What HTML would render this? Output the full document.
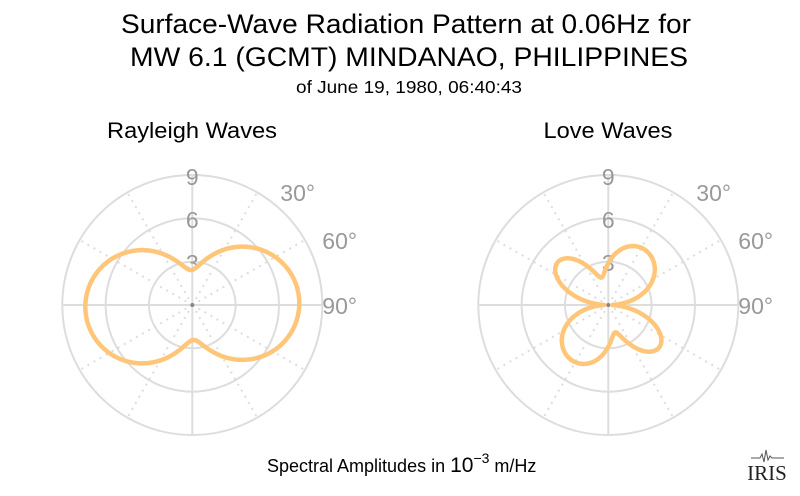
<!DOCTYPE html>
<html><head><meta charset="utf-8"><style>
html,body{margin:0;padding:0;background:#fff;}
svg{display:block;font-family:"Liberation Sans",sans-serif;}
</style></head><body>
<svg id="s" width="800" height="496" viewBox="0 0 800 496" xmlns="http://www.w3.org/2000/svg">
<text x="406" y="33" font-size="27" text-anchor="middle" fill="#000" textLength="570" lengthAdjust="spacingAndGlyphs">Surface-Wave Radiation Pattern at 0.06Hz for</text>
<text x="409" y="66" font-size="27" text-anchor="middle" fill="#000" textLength="558" lengthAdjust="spacingAndGlyphs">MW 6.1 (GCMT) MINDANAO, PHILIPPINES</text>
<text x="409" y="93" font-size="17.5" text-anchor="middle" fill="#000" textLength="226" lengthAdjust="spacingAndGlyphs">of June 19, 1980, 06:40:43</text>
<text x="192" y="138" font-size="22" text-anchor="middle" fill="#000" textLength="170" lengthAdjust="spacingAndGlyphs">Rayleigh Waves</text>
<text x="608" y="138" font-size="22" text-anchor="middle" fill="#000" textLength="129" lengthAdjust="spacingAndGlyphs">Love Waves</text>
<g id="g1"></g><g id="g2"></g>
<text x="267" y="472" font-size="18" fill="#000">Spectral Amplitudes in <tspan font-size="21">10</tspan><tspan font-size="14" dy="-9">−3</tspan><tspan dy="9"> m/Hz</tspan></text>
<text x="767" y="480" font-size="21" text-anchor="middle" font-family="Liberation Serif,serif" fill="#222">IRIS</text>
<path d="M751 458 L760 458 L762 454 L764 462 L766 450 L768 460 L770 456 L772 458 L784 458" fill="none" stroke="#555" stroke-width="1"/>
</svg>
<script>
function polar(id,cx,cy,f){
 var g=document.getElementById(id),h='';
 [43.3,86.7,130].forEach(function(r){h+='<circle cx="'+cx+'" cy="'+cy+'" r="'+r+'" fill="none" stroke="#ddd" stroke-width="2"/>';});
 for(var a=0;a<360;a+=30){var t=a*Math.PI/180,x=cx+130*Math.sin(t),y=cy-130*Math.cos(t);
  if(a%90==0)h+='<line x1="'+cx+'" y1="'+cy+'" x2="'+x+'" y2="'+y+'" stroke="#ddd" stroke-width="2"/>';
  else h+='<line x1="'+cx+'" y1="'+cy+'" x2="'+x+'" y2="'+y+'" stroke="#ddd" stroke-width="2" stroke-dasharray="2,5"/>';}
 h+='<circle cx="'+cx+'" cy="'+cy+'" r="2" fill="#888"/>';
 var L=[['9',cx,185],['6',cx,228],['3',cx,271]];
 L.forEach(function(l){h+='<text x="'+l[1]+'" y="'+l[2]+'" font-size="23" text-anchor="middle" fill="#999">'+l[0]+'</text>';});
 h+='<text x="'+(cx+88)+'" y="'+(cy-104)+'" font-size="23" fill="#999">30°</text>';
 h+='<text x="'+(cx+130)+'" y="'+(cy-56)+'" font-size="23" fill="#999">60°</text>';
 h+='<text x="'+(cx+130)+'" y="'+(cy+9)+'" font-size="23" fill="#999">90°</text>';
 var d='';for(var i=0;i<=720;i++){var t=i/2*Math.PI/180,r=f(t);d+=(i?'L':'M')+(cx+r*Math.sin(t)).toFixed(2)+' '+(cy-r*Math.cos(t)).toFixed(2);}
 h+='<path d="'+d+'Z" fill="none" stroke="#ffc67a" stroke-width="4.5" stroke-linejoin="round"/>';
 g.innerHTML=h;
}
var D=Math.PI/180;
polar('g1',192.3,305,function(t){var s=Math.sin(t+2*D);return Math.sqrt(35*35+(107*107-35*35)*s*s);});
polar('g2',608.3,305,function(t){var c=Math.cos(t);var p=t+15*D*c*c;var a=63*Math.sin(2*p),b=28*Math.cos(p);return Math.sqrt(a*a+b*b+16);});
</script>
</body></html>
